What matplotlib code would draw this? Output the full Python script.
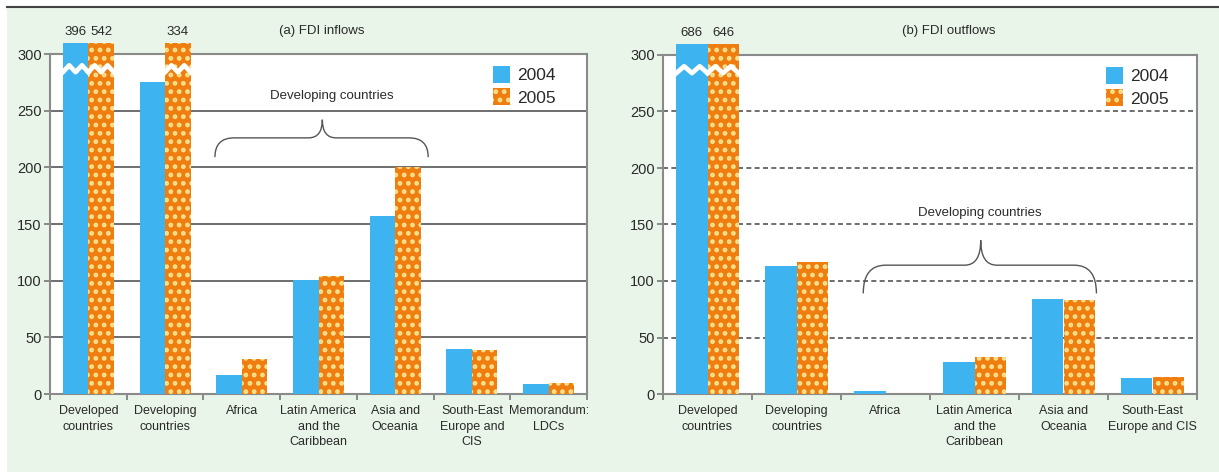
import matplotlib.pyplot as plt
from matplotlib.patches import Rectangle, PathPatch
from matplotlib.path import Path
import numpy as np

# FDI flows by region, billions of dollars
cats_in = ["Developed\ncountries", "Developing\ncountries", "Africa",
           "Latin America\nand the\nCaribbean", "Asia and\nOceania",
           "South-East\nEurope and\nCIS", "Memorandum:\nLDCs"]
in_2004 = [396, 275, 17, 101, 157, 40, 9]
in_2005 = [542, 334, 31, 104, 200, 39, 10]

cats_out = ["Developed\ncountries", "Developing\ncountries", "Africa",
            "Latin America\nand the\nCaribbean", "Asia and\nOceania",
            "South-East\nEurope and CIS"]
out_2004 = [686, 113, 3, 28, 84, 14]
out_2005 = [646, 117, 0, 33, 83, 15]

years = ["2004", "2005"]

BLUE = "#3db4f0"
ORANGE = "#f07d10"
DOTS = "#f8e28c"
BG = "#eaf5ea"
TXT = "#2a2a2a"
CAP = 310  # bars above this are drawn broken

plt.rcParams['font.family'] = ['Liberation Sans', 'DejaVu Sans']
plt.rcParams['hatch.linewidth'] = 2.2

fig = plt.figure(figsize=(12.19, 4.72), dpi=100)
fig.patch.set_facecolor("white")
fig.patches.append(Rectangle((7 / 1219, 0), 1, 1 - 8 / 472, transform=fig.transFigure,
                             facecolor=BG, edgecolor="none", zorder=-10))
fig.add_artist(plt.Line2D([7 / 1219, 1], [1 - 7 / 472] * 2, transform=fig.transFigure,
                          color="#444444", lw=1.5))


def brace(ax, xl, xc, xr, yb, yh, yp, dx, dxc):
    verts = [(xl, yb), (xl, yh), (xl + dx, yh),
             (xc - dxc, yh), (xc, yh), (xc, yp),
             (xc, yh), (xc + dxc, yh),
             (xr - dx, yh), (xr, yh), (xr, yb)]
    codes = [Path.MOVETO, Path.CURVE3, Path.CURVE3,
             Path.LINETO, Path.CURVE3, Path.CURVE3,
             Path.CURVE3, Path.CURVE3,
             Path.LINETO, Path.CURVE3, Path.CURVE3]
    ax.add_patch(PathPatch(Path(verts, codes), facecolor="none", edgecolor="#555555",
                           lw=1.0, zorder=4))


def panel(ax, cats, v04, v05, w, dashed, legend_anchor):
    x = np.arange(len(cats))
    h04 = np.minimum(v04, CAP)
    h05 = np.minimum(v05, CAP)
    b1 = ax.bar(x - w / 2, h04, w, color=BLUE, edgecolor="none", zorder=3,
                clip_on=False, label=years[0])
    b2 = ax.bar(x + w / 2, h05, w, color=ORANGE, edgecolor=DOTS, lw=0, hatch="..",
                zorder=3, clip_on=False, label=years[1])

    # broken bars: white zigzag and value on top
    for xs, vals in ((x - w / 2, v04), (x + w / 2, v05)):
        for xi, v in zip(xs, vals):
            if v > CAP:
                zx = np.linspace(xi - w / 2, xi + w / 2, 5)
                zy = np.array([284, 290, 284, 290, 284])
                ax.plot(zx, zy, color="white", lw=3.4, zorder=5, clip_on=False,
                        solid_joinstyle="round")
                ax.text(xi, CAP + 4, str(v), ha="center", va="bottom", fontsize=9.5,
                        color=TXT, clip_on=False)

    ax.set_xlim(-0.5, len(cats) - 0.5)
    ax.set_ylim(0, 300)
    ax.set_yticks(np.arange(0, 301, 50))
    ax.set_xticks(np.arange(len(cats) + 1) - 0.5)
    ax.set_xticklabels([])
    ax.set_xticks(x, minor=True)
    ax.set_xticklabels(cats, minor=True, fontsize=9, color=TXT, linespacing=1.4)
    ax.tick_params(axis="x", which="minor", length=0, pad=8)
    ax.tick_params(axis="x", which="major", length=4, width=1.2, color="#777777", direction="out")
    ax.tick_params(axis="y", length=4, width=1.2, color="#777777", labelsize=10.5,
                   labelcolor=TXT, pad=2)
    ax.set_facecolor("white")
    for s in ax.spines.values():
        s.set_color("#8a8a8a")
        s.set_linewidth(1.5)
    for yv in range(50, 300, 50):
        if dashed:
            ax.axhline(yv, color="#555555", lw=1.2, ls=(0, (3, 2)), zorder=1)
        else:
            ax.axhline(yv, color="#555555", lw=1.2, zorder=1)

    leg = ax.legend(handles=[b1, b2], loc="upper right", bbox_to_anchor=legend_anchor,
                    frameon=False, fontsize=12.5, handlelength=1.0, handleheight=1.1,
                    handletextpad=0.4, labelspacing=0.3, borderaxespad=0)
    for t in leg.get_texts():
        t.set_color(TXT)
    return ax


ax1 = fig.add_axes([50 / 1219, 1 - 394 / 472, 537 / 1219, 340 / 472])
panel(ax1, cats_in, in_2004, in_2005, 0.333, False, (0.955, 0.985))
brace(ax1, 1.65, 3.05, 4.43, 209, 226, 242, 0.25, 0.18)
ax1.text(3.18, 263, "Developing countries", ha="center", va="center", fontsize=9.5, color=TXT)

ax2 = fig.add_axes([663 / 1219, 1 - 394 / 472, 534 / 1219, 339 / 472])
panel(ax2, cats_out, out_2004, out_2005, 0.35, True, (0.96, 0.985))
brace(ax2, 1.75, 3.07, 4.37, 89, 114, 136, 0.25, 0.18)
ax2.text(3.06, 160, "Developing countries", ha="center", va="center", fontsize=9.5, color=TXT)

fig.text(322 / 1219, 1 - 31 / 472, "(a) FDI inflows", ha="center", va="center",
         fontsize=9.5, color=TXT)
fig.text(949 / 1219, 1 - 31 / 472, "(b) FDI outflows", ha="center", va="center",
         fontsize=9.5, color=TXT)

fig.savefig("out.png", dpi=100, facecolor=fig.get_facecolor())
